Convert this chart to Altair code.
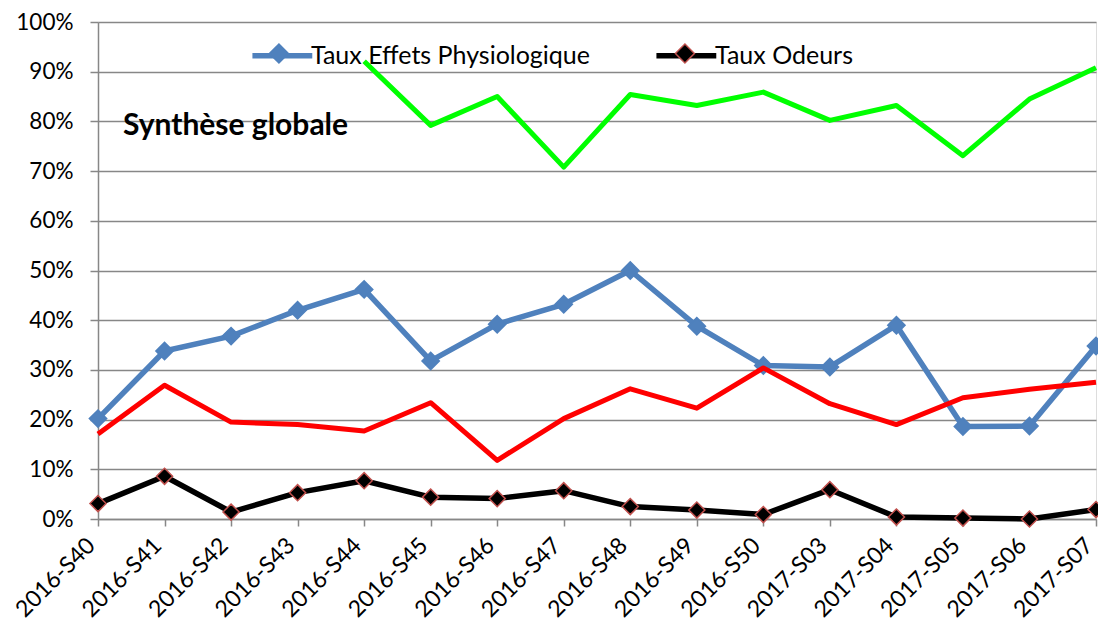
import altair as alt
import pandas as pd

weeks = ["2016-S40", "2016-S41", "2016-S42", "2016-S43", "2016-S44", "2016-S45",
         "2016-S46", "2016-S47", "2016-S48", "2016-S49", "2016-S50", "2017-S03",
         "2017-S04", "2017-S05", "2017-S06", "2017-S07"]

name_blue = "Taux Effets Physiologique"
name_black = "Taux Odeurs"
name_red = "Taux rouge"
name_green = "Taux vert"

blue = [20.2, 33.8, 36.8, 42.0, 46.2, 31.8, 39.2, 43.2, 50.0, 38.8, 30.9, 30.6, 39.0, 18.6, 18.7, 34.8]
black = [3.1, 8.6, 1.4, 5.3, 7.7, 4.4, 4.1, 5.7, 2.5, 1.8, 0.9, 5.9, 0.4, 0.2, 0.0, 1.9]
red = [17.1, 26.9, 19.5, 19.0, 17.7, 23.4, 11.8, 20.2, 26.2, 22.3, 30.4, 23.2, 19.0, 24.4, 26.1, 27.5]
green = [None, None, None, None, 92.1, 79.2, 85.0, 70.8, 85.4, 83.2, 85.9, 80.2, 83.2, 73.1, 84.5, 90.8]

C_BLUE = "#4F81BD"
C_BLACK = "#000000"
C_RED = "#FF0000"
C_GREEN = "#00FF00"
C_OUT = "#C0504D"
GRID = "#878787"
FONT = "Lato"


def frame(name, vals):
    return pd.DataFrame({
        "week": weeks,
        "series": name,
        "value": [None if v is None else v / 100 for v in vals],
    })


df_blue = frame(name_blue, blue)
df_black = frame(name_black, black)
df_red = frame(name_red, red)
df_green = frame(name_green, green)

x_enc = alt.X("week:N", sort=weeks,
              scale=alt.Scale(type="point", padding=0),
              axis=alt.Axis(title=None, labelAngle=-45, labelAlign="right",
                            labelBaseline="bottom", labelFont=FONT, labelFontSize=23,
                            labelColor="#000000", labelPadding=24, labelOffset=1.5,
                            tickSize=7, tickColor=GRID, tickWidth=1.5, domainColor=GRID,
                            domainWidth=1.5, grid=False, labelOverlap=False,
                            labelBound=False, labelFlush=False))
y_enc = alt.Y("value:Q",
              scale=alt.Scale(domain=[0, 1], nice=False, zero=True),
              axis=alt.Axis(title=None, format=".0%", values=[i / 10 for i in range(11)],
                            labelFont=FONT, labelFontSize=22.5, labelColor="#000000",
                            labelPadding=17, tickSize=8, tickColor=GRID, tickWidth=1.5,
                            domainColor=GRID, domainWidth=1.5, grid=True,
                            gridColor=GRID, gridWidth=1.5))

LEG_X = 150
LEG_Y = 2
LEG_COLPAD = 55
LABEL1_W = 292

line_legend = alt.Legend(
    title=None, values=[name_blue, name_black], orient="none",
    legendX=LEG_X, legendY=LEG_Y, direction="horizontal",
    symbolType="M-0.95,0L1.15,0", symbolSize=3249, symbolStrokeWidth=5.5,
    labelFont=FONT, labelFontSize=25, labelColor="#000000", labelOffset=0,
    columnPadding=LEG_COLPAD, padding=0, labelLimit=500)

color_enc = alt.Color("series:N",
                      scale=alt.Scale(domain=[name_blue, name_black, name_red, name_green],
                                      range=[C_BLUE, C_BLACK, C_RED, C_GREEN]),
                      legend=line_legend)

dot_legend = alt.Legend(
    title=None, orient="none", legendX=LEG_X, legendY=LEG_Y, direction="horizontal",
    symbolType="M0.05,-0.333L0.383,0L0.05,0.333L-0.283,0Z", symbolSize=3249,
    symbolStrokeWidth=1.5, labelExpr="''", labelOffset=0,
    columnPadding=LEG_COLPAD + LABEL1_W, padding=0)

fill_enc = alt.Fill("series:N",
                    scale=alt.Scale(domain=[name_blue, name_black], range=[C_BLUE, C_BLACK]),
                    legend=dot_legend)
stroke_enc = alt.Stroke("series:N",
                        scale=alt.Scale(domain=[name_blue, name_black], range=[C_BLUE, C_OUT]),
                        legend=dot_legend)


def line_layer(df, width):
    return alt.Chart(df).mark_line(strokeWidth=width, strokeJoin="round").encode(
        x=x_enc, y=y_enc, color=color_enc)


def point_layer(df, size):
    return alt.Chart(df).mark_point(shape="diamond", filled=True, size=size,
                                    strokeWidth=1.5, opacity=1).encode(
        x=x_enc, y=y_enc, fill=fill_enc, stroke=stroke_enc)


chart = alt.layer(
    line_layer(df_blue, 5.5),
    point_layer(df_blue, 300),
    line_layer(df_black, 5.5),
    point_layer(df_black, 260),
    line_layer(df_red, 5),
    line_layer(df_green, 5),
).properties(
    width=998, height=497,
    autosize=alt.AutoSizeParams(type="none"),
    padding={"left": 90, "top": 14, "right": 2, "bottom": 101.5},
    title=alt.Title("Synthèse globale", anchor="start", frame="group", orient="top",
                    font=FONT, fontSize=30, fontWeight="bold", color="#000000",
                    baseline="alphabetic", offset=0, dx=25, dy=154),
).configure_view(stroke=None).configure(background="white")

chart.save("out.html", embed_options={"renderer": "svg", "actions": False})
